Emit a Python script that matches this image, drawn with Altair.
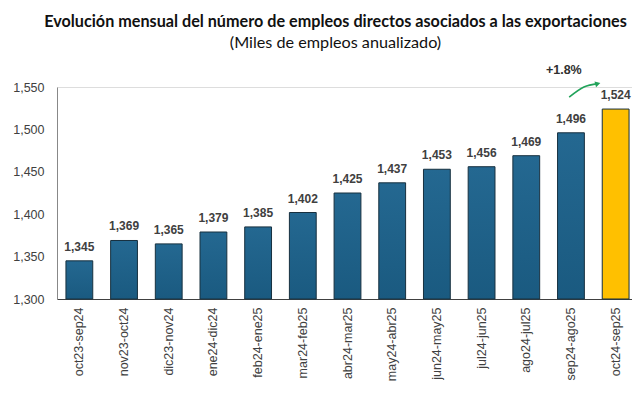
import altair as alt
import pandas as pd

periods = ["oct23-sep24", "nov23-oct24", "dic23-nov24", "ene24-dic24", "feb24-ene25",
           "mar24-feb25", "abr24-mar25", "may24-abr25", "jun24-may25", "jul24-jun25",
           "ago24-jul25", "sep24-ago25", "oct24-sep25"]
values = [1345, 1369, 1365, 1379, 1385, 1402, 1425, 1437, 1453, 1456, 1469, 1496, 1524]
highlight = [False] * 12 + [True]
y_ticks = [1300, 1350, 1400, 1450, 1500, 1550]

# annotation (data units: bar index, thousands of jobs)
arrow_x = [10.96, 11.29, 11.6]
arrow_y = [1538, 1550, 1554]
note_x = [10.84]
note_y = [1570]
note_text = ["+1.8%"]

df = pd.DataFrame({"period": periods, "value": values, "hl": highlight})
df["base"] = 1300
df["label"] = [f"{v:,}" for v in values]
arrow_df = pd.DataFrame({"i": arrow_x, "v": arrow_y})
head_df = pd.DataFrame({"i": arrow_x[-1:], "v": arrow_y[-1:]})
note_df = pd.DataFrame({"i": note_x, "v": note_y, "t": note_text})

W, H = 575, 212
XR = [0, 581]
ydom = [1300, 1550]

xenc = alt.X("period:N", sort=periods, title=None,
             scale=alt.Scale(paddingInner=0.4, paddingOuter=0.2, range=XR),
             axis=alt.Axis(labelAngle=270, labelFont="Liberation Sans", labelFontSize=12.5,
                           labelColor="#404040", ticks=False, labelPadding=8,
                           domainColor="#404040", domainWidth=1.2))
yenc = alt.Y("value:Q", title=None,
             scale=alt.Scale(domain=ydom, zero=False, nice=False),
             axis=alt.Axis(values=y_ticks, format=",d",
                           grid=False, ticks=False, labelFont="Liberation Sans",
                           labelFontSize=12.5, labelColor="#404040", labelPadding=13,
                           domainColor="#888888"))

blue = alt.Gradient(gradient="linear", x1=0, y1=0, x2=0, y2=1,
                    stops=[alt.GradientStop(color="#246891", offset=0),
                           alt.GradientStop(color="#1a5a80", offset=1)])

base = alt.Chart(df)
bars_blue = base.transform_filter("!datum.hl").mark_bar(
    color=blue, stroke="#17303f", strokeWidth=1).encode(x=xenc, y=yenc, y2="base:Q")
bars_gold = base.transform_filter("datum.hl").mark_bar(
    color="#FFC000", stroke="#17303f", strokeWidth=1).encode(x=xenc, y=yenc, y2="base:Q")
labels = base.mark_text(baseline="bottom", dy=-7, font="Liberation Sans", fontWeight="bold",
                        fontSize=12, color="#404040").encode(x=xenc, y=yenc, text="label:N")

bars = alt.layer(bars_blue, bars_gold, labels)

qx = alt.X("i:Q", scale=alt.Scale(domain=[-0.5, 12.5], nice=False, zero=False, range=XR), axis=None)
qy = alt.Y("v:Q", scale=alt.Scale(domain=ydom, zero=False, nice=False), axis=None)
arrow = alt.Chart(arrow_df).mark_line(color="#21A35A", strokeWidth=1.6, interpolate="monotone").encode(
    x=qx, y=qy)
head = alt.Chart(head_df).mark_point(shape="triangle-right", size=36, angle=345, filled=True,
                                     color="#21A35A", opacity=1).encode(x=qx, y=qy)
note = alt.Chart(note_df).mark_text(font="Liberation Sans", fontWeight="bold", fontSize=12.5,
                                    color="#303030").encode(x=qx, y=qy, text="t:N")
annot = alt.layer(arrow, head, note)

chart = alt.layer(bars, annot).resolve_scale(x="independent", y="independent").properties(
    width=W, height=H,
    autosize=alt.AutoSizeParams(type="none"),
    padding={"left": 49, "top": 79, "right": 0, "bottom": 92},
    title=alt.TitleParams(
        text="Evolución mensual del número de empleos directos asociados a las exportaciones",
        subtitle="(Miles de empleos anualizado)",
        font="Lato", fontSize=16.2, fontWeight="bold", color="#111111",
        subtitleFont="Lato", subtitleFontSize=16.2, subtitleColor="#111111",
        subtitlePadding=5, anchor="middle", dx=-9, offset=13),
).configure_view(stroke=None).configure(background="white")

chart.save("out.html", embed_options={"renderer": "svg", "actions": False})
